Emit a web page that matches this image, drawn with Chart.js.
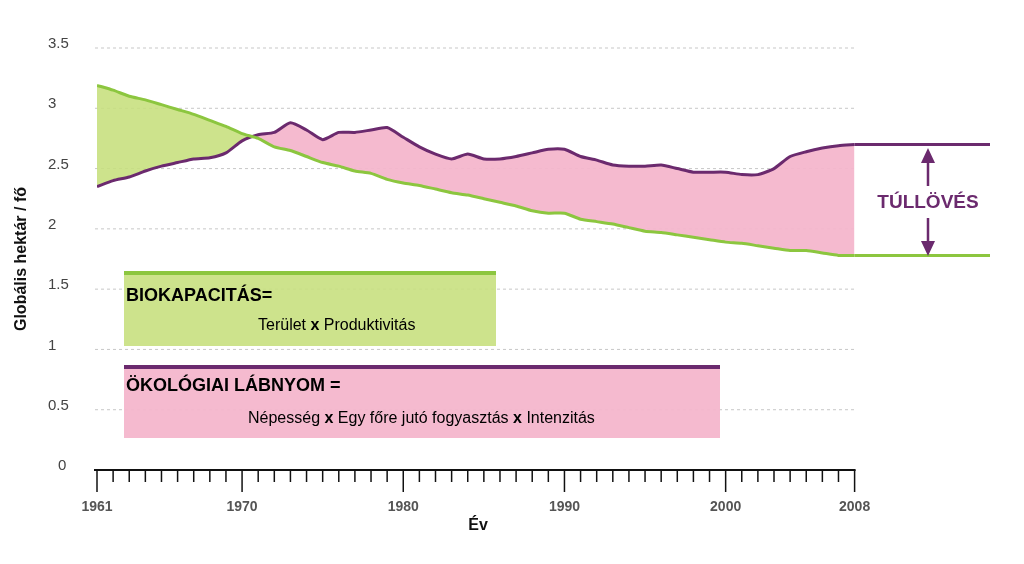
<!DOCTYPE html>
<html><head><meta charset="utf-8">
<script src="https://cdn.jsdelivr.net/npm/chart.js@4"></script>
<style>html,body{margin:0;background:#fff}#w{width:1024px;height:564px}</style>
</head><body><div id="w"><canvas id="c"></canvas></div>
<script>
const years=[];for(let y=1961;y<=2008;y++)years.push(y);
const footprint=[2.35,2.40,2.43,2.48,2.52,2.55,2.58,2.59,2.63,2.73,2.78,2.80,2.88,2.82,2.74,2.80,2.80,2.82,2.84,2.76,2.68,2.62,2.58,2.62,2.58,2.58,2.60,2.63,2.66,2.66,2.60,2.57,2.53,2.52,2.52,2.53,2.50,2.47,2.47,2.47,2.45,2.45,2.50,2.60,2.64,2.67,2.69,2.70];
const biocapacity=[3.19,3.15,3.10,3.07,3.03,2.99,2.95,2.90,2.85,2.79,2.75,2.68,2.65,2.60,2.55,2.52,2.48,2.46,2.41,2.38,2.36,2.33,2.30,2.28,2.25,2.22,2.19,2.15,2.13,2.13,2.08,2.06,2.04,2.01,1.98,1.97,1.95,1.93,1.91,1.89,1.88,1.86,1.84,1.82,1.82,1.80,1.78,1.78];
const yTicks=[0,0.5,1,1.5,2,2.5,3,3.5];
const xLabels=[1961,1970,1980,1990,2000,2008];
const xEnd=2016.4;
const PURPLE='#6b2a6e',GREEN='#8cc63f',PINK='rgba(244,182,204,0.95)',LGREEN='rgba(200,224,128,0.9)';
const pts=a=>a.map((v,i)=>({x:years[i],y:v}));
const deco={id:'deco',
beforeDatasetsDraw(ch){const c=ch.ctx,x=ch.scales.x,y=ch.scales.y;
 c.save();c.strokeStyle='#c8c8c8';c.setLineDash([3,3]);c.lineWidth=1;
 yTicks.forEach(t=>{if(t===0)return;const p=y.getPixelForValue(t);c.beginPath();c.moveTo(95,p);c.lineTo(x.getPixelForValue(2008),p);c.stroke();});
 c.setLineDash([]);c.restore();},
afterDatasetsDraw(ch){const c=ch.ctx,x=ch.scales.x,y=ch.scales.y;c.save();
 c.font='15px "Liberation Sans"';c.fillStyle='#444';c.textAlign='left';c.textBaseline='middle';
 yTicks.forEach(t=>c.fillText(String(t),t===0?58:48,y.getPixelForValue(t)-4));
 const y0=y.getPixelForValue(0);c.strokeStyle='#111';c.lineWidth=2;
 c.beginPath();c.moveTo(94,y0);c.lineTo(x.getPixelForValue(2008)+1,y0);c.stroke();
 c.lineWidth=1.5;
 years.forEach(yr=>{const p=x.getPixelForValue(yr);const maj=xLabels.includes(yr);c.beginPath();c.moveTo(p,y0);c.lineTo(p,y0+(maj?22:12));c.stroke();});
 c.font='bold 14px "Liberation Sans"';c.fillStyle='#555';c.textAlign='center';
 xLabels.forEach(l=>c.fillText(String(l),x.getPixelForValue(l),507));
 c.fillStyle='#111';c.font='bold 16px "Liberation Sans"';c.fillText('Év',478,526);
 c.save();c.translate(22,259);c.rotate(-Math.PI/2);c.fillText('Globális hektár / fő',0,0);c.restore();
 // boxes
 c.fillStyle=LGREEN;c.fillRect(124,274,372,72);c.fillStyle=GREEN;c.fillRect(124,271,372,4);
 c.fillStyle=PINK;c.fillRect(124,368,596,70);c.fillStyle=PURPLE;c.fillRect(124,365,596,4);
 c.fillStyle='#000';c.textAlign='left';c.font='bold 18px "Liberation Sans"';
 c.fillText('BIOKAPACITÁS=',126,296);c.fillText('ÖKOLÓGIAI LÁBNYOM =',126,386);
 c.font='16px "Liberation Sans"';
 const seg=(parts,xx,yy)=>{parts.forEach(([t,b])=>{c.font=(b?'bold ':'')+'16px "Liberation Sans"';c.fillText(t,xx,yy);xx+=c.measureText(t).width;});};
 seg([['Terület ',0],['x',1],[' Produktivitás',0]],258,326);
 seg([['Népesség ',0],['x',1],[' Egy főre jutó fogyasztás ',0],['x',1],[' Intenzitás',0]],248,419);
 // arrow
 c.strokeStyle=PURPLE;c.fillStyle=PURPLE;c.lineWidth=2.5;const ax=928;
 c.beginPath();c.moveTo(ax,160);c.lineTo(ax,186);c.moveTo(ax,218);c.lineTo(ax,244);c.stroke();
 c.beginPath();c.moveTo(ax,148);c.lineTo(ax-7,163);c.lineTo(ax+7,163);c.fill();
 c.beginPath();c.moveTo(ax,256);c.lineTo(ax-7,241);c.lineTo(ax+7,241);c.fill();
 c.font='bold 19px "Liberation Sans"';c.textAlign='center';c.fillText('TÚLLÖVÉS',928,203);
 c.restore();}};
new Chart(document.getElementById('c'),{type:'line',
data:{datasets:[
 {data:pts(footprint),borderColor:PURPLE,borderWidth:3,pointRadius:0,tension:0.2,fill:{target:1,above:PINK,below:LGREEN},order:1},
 {data:pts(biocapacity),borderColor:GREEN,borderWidth:3,pointRadius:0,tension:0.2,fill:false,order:0},
 {data:[{x:2008,y:footprint[47]},{x:xEnd,y:footprint[47]}],borderColor:PURPLE,borderWidth:3,pointRadius:0,fill:false},
 {data:[{x:2008,y:biocapacity[47]},{x:xEnd,y:biocapacity[47]}],borderColor:GREEN,borderWidth:3,pointRadius:0,fill:false}]},
options:{responsive:true,maintainAspectRatio:false,animation:false,
 layout:{padding:{left:97,right:34,top:48,bottom:94}},
 plugins:{legend:{display:false},tooltip:{enabled:false}},
 scales:{x:{type:'linear',min:1961,max:xEnd,display:false},y:{min:0,max:3.5,display:false}}},
plugins:[deco]});
</script></body></html>
